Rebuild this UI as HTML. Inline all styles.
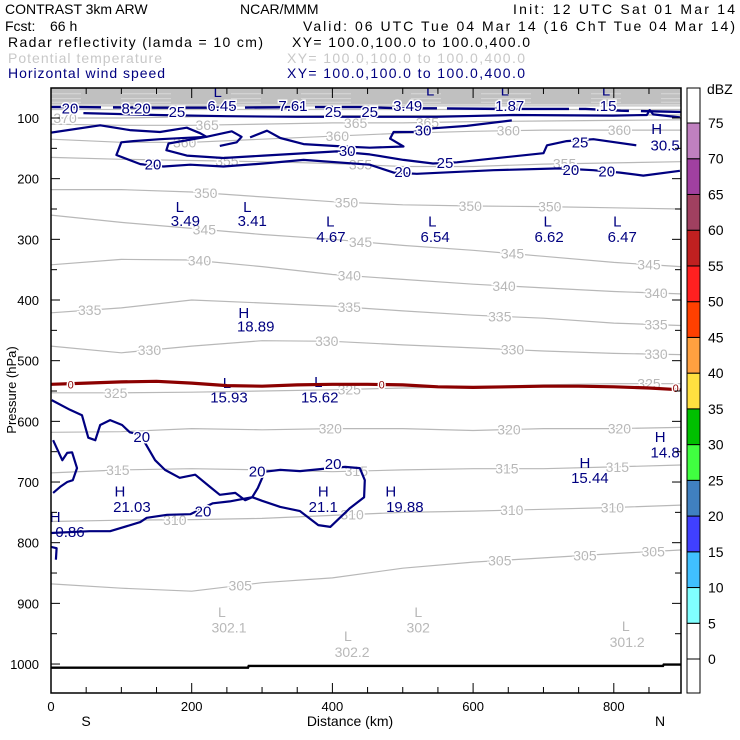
<!DOCTYPE html>
<html><head><meta charset="utf-8"><style>
html,body{margin:0;padding:0;background:#fff;}
svg{display:block;font-family:"Liberation Sans",sans-serif;}
</style></head><body>
<svg id="chart" width="740" height="740" viewBox="0 0 740 740" xmlns="http://www.w3.org/2000/svg">
<defs><clipPath id="plotclip"><rect x="51" y="88" width="630" height="605"/></clipPath></defs>
<g font-size="14">
<text x="5" y="14">CONTRAST  3km ARW</text>
<text x="240" y="14">NCAR/MMM</text>
<text x="735" y="14" text-anchor="end" textLength="222">Init: 12 UTC Sat 01 Mar 14</text>
<text x="5" y="31">Fcst:</text>
<text x="50" y="31">66 h</text>
<text x="735" y="31" text-anchor="end" textLength="432">Valid: 06 UTC Tue 04 Mar 14 (16 ChT Tue 04 Mar 14)</text>
<text x="8" y="47" textLength="255">Radar reflectivity (lamda = 10 cm)</text>
<text x="292" y="47" textLength="238">XY= 100.0,100.0 to 100.0,400.0</text>
<text x="8" y="63" fill="#c8c8c8" textLength="154">Potential temperature</text>
<text x="287" y="63" fill="#c8c8c8" textLength="238">XY= 100.0,100.0 to 100.0,400.0</text>
<text x="8" y="78" fill="#000080" textLength="157">Horizontal wind speed</text>
<text x="287" y="78" fill="#000080" textLength="238">XY= 100.0,100.0 to 100.0,400.0</text>
</g>
<g id="plot" clip-path="url(#plotclip)"></g>
<g id="axes"></g>
<g id="cbar"></g>
</svg>
<script>
const NS="http://www.w3.org/2000/svg";
const kmKnots=[0,100,200,300,400,500,600,700,800,895];
const thetaLevels=[305,310,315,320,325,330,335,340,345,350,355,360,365,370];
const theta305=[868,875,880,866,858,842,832,825,818,812];
const theta310=[765,763,762,760,755,750,748,745,742,738];
const theta315=[685,680,678,680,683,680,678,678,675,672];
const theta320=[618,617,612,614,612,612,615,612,612,610];
const theta325=[553,553,552,550,548,545,543,540,538,538];
const theta330=[476,487,476,467,468,474,479,484,488,490];
const theta335=[421,413,400,405,410,418,425,430,438,442];
const theta340=[342,333,334,345,358,366,374,380,386,390];
const theta345=[260,272,282,292,300,310,318,328,338,345];
const theta350=[218,218,222,230,238,243,245,246,248,250];
const theta355=[165,168,170,172,175,180,180,176,174,172];
const theta360=[135,140,140,135,130,125,122,120,120,120];
const theta365=[110,112,112,110,108,108,106,105,104,103];
const theta370=[100,100,98,97,96,96,96,95,95,95];
const thetaProfiles=[theta305,theta310,theta315,theta320,theta325,theta330,theta335,theta340,theta345,theta350,theta355,theta360,theta365,theta370];
const thetaLabelKm=[[269,638,759,856],[176,428,655,798],[95,434,648,805],[397,651,808],[92,424,850],[140,392,656,860],[55,424,638,860],[211,424,644,860],[218,440,656,850],[220,420,596,709],[250,440,730],[190,407,650,808],[222,433,535],[20]];
const freezeKm=[0,50,100,150,200,250,300,350,400,450,500,550,600,650,700,750,800,850,895];
const freezeP=[539,537,535,534,537,541,542,540,539,539,540,543,544,543,542,542,543,545,548];
const freezeLabelKm=[28,470,888];
const groundKm=[0,280,281,870,871,895];
const groundP=[1006,1006,1003,1003,1001,1001];
const windTopKm=[46,150,250,350,453,548,657,799,847,851,856,894];
const windTopP=[92,95,97,98,98,98,95,96,95,87,94,99];
const wind20aKm=[0,70,112,155,193,212,221,155,117,100,93,127,160,198,245,302,359,453,487,520,629,723,771,809,842,894];
const wind20aP=[124,112,120,123,116,125,131,135,138,140,161,176,180,177,180,175,169,177,190,192,186,183,186,190,195,187];
const wind25Km=[221,167,164,193,245,302,406,453,501,543,577,700,705,733,771,832];
const wind25P=[131,142,153,162,166,162,155,160,169,175,173,158,145,138,135,145];
const wind30aKm=[240,264,271,257,221];
const wind30aP=[146,140,131,122,131];
const wind30bKm=[283,307,326,359,416,453,501,482,487,515,543,591,655];
const wind30bP=[132,121,133,143,147,149,147,134,123,123,117,113,104];
const wind20bKm=[1,27,44,53,63,70,84,101,112,127,148,162,183,205,226,240,262,276,286,300,326,354,380,397,425,445,446,439,418,397,354,326,304,294,286,254,230,198,165,136,127,84,55,0];
const wind20bP=[565,581,590,627,631,606,598,606,618,622,664,680,693,688,708,721,718,730,725,731,741,748,771,774,743,725,697,677,675,677,682,680,683,710,725,732,735,753,754,759,766,781,781,784];
const wind20cKm=[3,16,23,30,37,31,23,13,3];
const wind20cP=[631,664,652,651,677,697,700,708,718];
const wind20dKm=[0,8,7];
const wind20dP=[807,809,828];
const windLabelText=["20","8.20","25","6.45","7.61","25","25","3.49","1.87",".15","30","30","25","25","20","20","20","20","20","20","20","20"];
const windLabelKm=[27,121,179,243,344,401,453,507,652,789,529,421,560,752,145,500,739,790,129,293,401,216];
const windLabelP=[84,84,90,80,80,90,90,80,80,80,121,154,174,140,177,189,186,188,626,683,670,749];
const extText=["L","L","L","L","3.49","3.41","4.67","6.54","6.62","6.47","L","L","L","L","L","L","H","18.89","L","15.93","L","15.62","H","14.8","H","15.44","H","21.03","H","21.1","H","19.88","H","0.86","H","30.5"];
const extKm=[237,539,645,789,191,286,398,546,708,812,183,279,397,542,706,805,274,291,250,253,380,382,866,873,759,766,98,115,387,387,483,503,6,27,861,873];
const extP=[57,55,55,55,270,270,296,296,296,296,247,247,271,271,271,271,421,444,537,561,535,561,626,651,669,693,716,741,716,741,716,741,758,782,118,145];
const thetaExtText=["L","302.1","L","302.2","L","302","L","301.2"];
const thetaExtKm=[243,253,422,428,522,522,817,819];
const thetaExtP=[914,940,954,980,914,940,937,964];
const pTicks=[100,200,300,400,500,600,700,800,900,1000];
const kmTicks=[0,200,400,600,800];
const dbzLevels=[0,5,10,15,20,25,30,35,40,45,50,55,60,65,70,75];
const dbzColors=["#ffffff","#80ffff","#40c0ff","#4040ff","#4080c0","#40ff40","#00c000","#ffe040","#ffa040","#ff4000","#ff2020","#c02020","#a04060","#a040a0","#c080c0","#ffffff"];

const X=km=>51+km*0.7035;
const Y=p=>118+(p-100)*0.6067;
const plot=document.getElementById('plot');
const axes=document.getElementById('axes');
const cbar=document.getElementById('cbar');
function mk(tag,attrs,parent){const e=document.createElementNS(NS,tag);for(const k in attrs)e.setAttribute(k,attrs[k]);parent.appendChild(e);return e;}
function pts(kms,ps){return kms.map((k,i)=>X(k).toFixed(1)+','+Y(ps[i]).toFixed(1)).join(' ');}
function interp(arr,km){for(let i=0;i<kmKnots.length-1;i++){if(km<=kmKnots[i+1]){const t=(km-kmKnots[i])/(kmKnots[i+1]-kmKnots[i]);return arr[i]+t*(arr[i+1]-arr[i]);}}return arr[arr.length-1];}

let band=mk('rect',{x:51,y:Y(50),width:630,height:Y(78)-Y(50),fill:'#c0c0c0'},plot);


[60,68,74].forEach(p=>{const l=mk('line',{x1:51,x2:681,y1:Y(p),y2:Y(p),stroke:'#d8d8d8','stroke-width':1,'stroke-dasharray':'30 40 50 60'},plot);

});
[80,86].forEach(p=>{const l=mk('line',{x1:51,x2:681,y1:Y(p),y2:Y(p),stroke:'#c0c0c0','stroke-width':1.2},plot);

});

thetaProfiles.forEach((arr,i)=>{
 const pl=mk('polyline',{points:pts(kmKnots,arr),fill:'none',stroke:'#b8b8b8','stroke-width':1.2},plot);
 
 
 thetaLabelKm[i].forEach(km=>{
  const t=mk('text',{x:X(km),y:Y(interp(arr,km))+5,'text-anchor':'middle','font-size':14,fill:'#b8b8b8',stroke:'#fff','stroke-width':3,'paint-order':'stroke'},plot);
  t.textContent=thetaLevels[i];
  
  
 });
});
thetaExtText.forEach((s,i)=>{const t=mk('text',{x:X(thetaExtKm[i]),y:Y(thetaExtP[i])+5,'text-anchor':'middle','font-size':14,fill:'#b8b8b8'},plot);t.textContent=s;
 
 });

[[windTopKm,windTopP],[wind20aKm,wind20aP],[wind25Km,wind25P],[wind30aKm,wind30aP],[wind30bKm,wind30bP],[wind20bKm,wind20bP],[wind20cKm,wind20cP],[wind20dKm,wind20dP]].forEach(([k,p])=>{
 const pl=mk('polyline',{points:pts(k,p),fill:'none',stroke:'#000080','stroke-width':2.2,'stroke-linejoin':'round'},plot);
 
 
});
const seg=mk('polyline',{points:pts([0,40,150,250,360,440,500,540,640,760,810,895],[82,82,83,83,82,82,84,84,85,85,88,90]),fill:'none',stroke:'#000080','stroke-width':2.4,'stroke-dasharray':'50 12 60 10'},plot);


windLabelText.forEach((s,i)=>{const t=mk('text',{x:X(windLabelKm[i]),y:Y(windLabelP[i])+5,'text-anchor':'middle','font-size':15,fill:'#000080',stroke:'#fff','stroke-width':3,'paint-order':'stroke'},plot);t.textContent=s;
 
 });
extText.forEach((s,i)=>{const t=mk('text',{x:X(extKm[i]),y:Y(extP[i])+5,'text-anchor':'middle','font-size':15,fill:'#000080'},plot);t.textContent=s;
 
 });

const fz=mk('polyline',{points:pts(freezeKm,freezeP),fill:'none',stroke:'#8b0000','stroke-width':3.2},plot);


freezeLabelKm.forEach(km=>{let p=freezeP[0];for(let i=0;i<freezeKm.length-1;i++){if(km>=freezeKm[i]&&km<=freezeKm[i+1]){p=freezeP[i];}}
 const t=mk('text',{x:X(km),y:Y(p)+4,'text-anchor':'middle','font-size':11,fill:'#8b0000',stroke:'#fff','stroke-width':3,'paint-order':'stroke'},plot);t.textContent='0';
 
 });

const gr=mk('polyline',{points:pts(groundKm,groundP),fill:'none',stroke:'#000','stroke-width':2.4},plot);



const fr=mk('rect',{x:51,y:88,width:630,height:605,fill:'none',stroke:'#000','stroke-width':1.5},axes);


for(let p=100;p<=1000;p+=50){const maj=p%100===0;const len=maj?9:6;
 [[51,51+len],[681-len,681]].forEach(([a,b])=>{const l=mk('line',{x1:a,x2:b,y1:Y(p),y2:Y(p),stroke:'#000','stroke-width':1},axes);
 
 });}
pTicks.forEach(p=>{const t=mk('text',{x:39,y:Y(p)+5,'text-anchor':'end','font-size':13},axes);t.textContent=p;
 
 });
for(let k=0;k<=850;k+=50){const maj=k%200===0;const len=maj?10:6;
 [[693-len,693],[88,88+len]].forEach(([a,b])=>{const l=mk('line',{x1:X(k),x2:X(k),y1:a,y2:b,stroke:'#000','stroke-width':1},axes);
 
 });}
kmTicks.forEach(k=>{const t=mk('text',{x:X(k),y:711,'text-anchor':'middle','font-size':13},axes);t.textContent=k;
 
 });
[['S',86],['N',660]].forEach(([s,x])=>{const t=mk('text',{x:x,y:726,'text-anchor':'middle','font-size':14},axes);t.textContent=s;
 
 });
const xt=mk('text',{x:350,y:726,'text-anchor':'middle','font-size':14},axes);xt.textContent='Distance (km)';


const yt=mk('text',{x:0,y:0,'text-anchor':'middle','font-size':13,transform:'translate(16,390) rotate(-90)'},axes);yt.textContent='Pressure (hPa)';



const cbTop=88,cbBot=693,b75=123,b0=659,step=(b0-b75)/15,cx=687,cw=13;
const topSeg=mk('rect',{x:cx,y:cbTop,width:cw,height:b75-cbTop,fill:'#fff',stroke:'#000'},cbar);


for(let i=0;i<15;i++){const lo=dbzLevels[i];const yTop=b0-(i+1)*step;
 const r=mk('rect',{x:cx,y:yTop,width:cw,height:step,fill:dbzColors[i],stroke:'#000'},cbar);
 
 }
const botSeg=mk('rect',{x:cx,y:b0,width:cw,height:cbBot-b0,fill:'#fff',stroke:'#000'},cbar);


dbzLevels.forEach((v,i)=>{const t=mk('text',{x:708,y:b0-i*step+5,'font-size':14},cbar);t.textContent=v;
 
 });
const du=mk('text',{x:707,y:94,'font-size':14},cbar);du.textContent='dBZ';


</script>
</body></html>
